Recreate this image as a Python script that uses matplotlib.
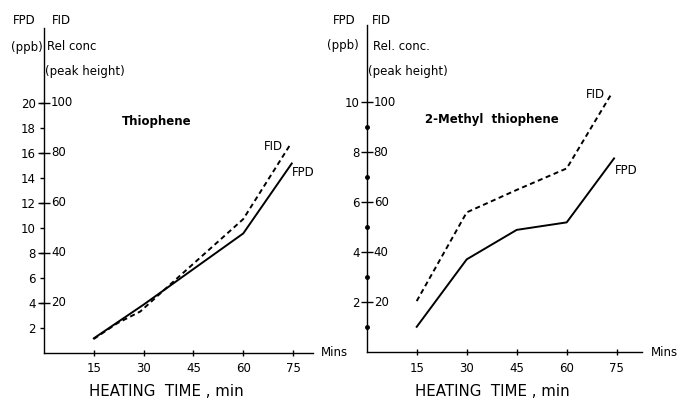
import matplotlib
matplotlib.use("Agg")
import matplotlib.pyplot as plt

plt.rcParams['font.family'] = ['DejaVu Sans']

# Thiophene (left)
thio_fpd_x = [15, 30, 45, 60, 74.6]
thio_fpd_y = [1.15, 3.85, 6.7, 9.55, 15.15]          # FPD ppb
thio_fid_x = [15, 22, 29, 34, 39, 60, 74]
thio_fid_y = [5.5, 11.75, 16.5, 22.5, 28.5, 53.5, 83]  # FID rel conc

# 2-Methyl thiophene (right)
meth_fpd_x = [15, 30, 45, 60, 74.2]
meth_fpd_y = [1.02, 3.72, 4.9, 5.2, 7.76]
meth_fid_x = [15, 30, 45, 60, 73.5]
meth_fid_y = [20.5, 56, 65, 73.6, 103.6]

x_ticks = [15, 30, 45, 60, 75]
left_fpd_ticks = [2, 4, 6, 8, 10, 12, 14, 16, 18, 20]
left_fid_labels = [20, 40, 60, 80, 100]
right_fpd_major = [2, 4, 6, 8, 10]
right_fpd_minor = [1, 3, 5, 7, 9]
right_fid_labels = [20, 40, 60, 80, 100]

W, H = 678, 403
fig = plt.figure(figsize=(W / 100, H / 100), dpi=100)


def fx(px):
    return px / W


def fy(py):
    return 1 - py / H


FS = 8.5
lw = 1.4
dash = (0, (2.6, 1.8))


def setup(ax, xmax, ymax):
    ax.set_xlim(0, xmax)
    ax.set_ylim(0, ymax)
    for s in ['top', 'right']:
        ax.spines[s].set_visible(False)
    for s in ['left', 'bottom']:
        ax.spines[s].set_linewidth(1.0)
    ax.set_xticks(x_ticks)
    ax.set_xticklabels([str(v) for v in x_ticks], fontsize=FS)
    ax.tick_params(axis='x', direction='inout', length=4, width=1, pad=5)


# Left panel
axL = fig.add_axes([fx(44), fy(352.7), fx(313 - 44), (352.7 - 28) / H])
setup(axL, 81, 26)
axL.set_yticks(left_fpd_ticks)
axL.set_yticklabels([str(v) for v in left_fpd_ticks], fontsize=FS)
axL.tick_params(axis='y', direction='out', length=3, width=1, pad=3)
axL.plot([0] * len(left_fid_labels), [f / 5 for f in left_fid_labels],
         linestyle='none', marker='_', markersize=8, markeredgewidth=1,
         color='black', clip_on=False)
for f in left_fid_labels:
    axL.annotate(str(f), xy=(0, f / 5), xycoords=('axes fraction', 'data'),
                 xytext=(5, 0), textcoords='offset points',
                 ha='left', va='center', fontsize=FS)
axL.plot(thio_fpd_x, thio_fpd_y, color='black', lw=lw)
axL.plot(thio_fid_x, [v / 5 for v in thio_fid_y], color='black', lw=lw,
         linestyle=dash)

# Right panel
axR = fig.add_axes([fx(366.7), fy(352.3), fx(641.7 - 366.7), (352.3 - 25) / H])
setup(axR, 82.5, 13.1)
axR.set_yticks(right_fpd_major)
axR.set_yticklabels([str(v) for v in right_fpd_major], fontsize=FS)
axR.tick_params(axis='y', direction='inout', length=8, width=1, pad=1)
axR.plot([0] * len(right_fpd_minor), right_fpd_minor, linestyle='none',
         marker='o', markersize=2.5, color='black', clip_on=False)
for f in right_fid_labels:
    axR.annotate(str(f), xy=(0, f / 10), xycoords=('axes fraction', 'data'),
                 xytext=(5, 0), textcoords='offset points',
                 ha='left', va='center', fontsize=FS)
axR.plot(meth_fpd_x, meth_fpd_y, color='black', lw=lw)
axR.plot(meth_fid_x, [v / 10 for v in meth_fid_y], color='black', lw=lw,
         linestyle=dash)


def t(px, py, s, **kw):
    kw.setdefault('fontsize', FS)
    fig.text(fx(px), fy(py), s, va='center', **kw)


t(13, 21, 'FPD')
t(52, 21, 'FID')
t(11, 47, '(ppb)')
t(47, 47, 'Rel conc')
t(45, 71, '(peak height)')
t(122, 121, 'Thiophene', fontweight='bold')
t(264, 147, 'FID')
t(292, 173, 'FPD')
t(321, 352, 'Mins')
t(166, 392, 'HEATING  TIME , min', fontsize=10.8, ha='center')

t(333, 20, 'FPD')
t(372, 20, 'FID')
t(327, 46, '(ppb)')
t(373, 46, 'Rel. conc.')
t(368, 71, '(peak height)')
t(425, 120, '2-Methyl  thiophene', fontweight='bold')
t(586, 95, 'FID')
t(615, 170, 'FPD')
t(651, 352, 'Mins')
t(492, 392, 'HEATING  TIME , min', fontsize=10.8, ha='center')

fig.savefig('out.png', dpi=100)
